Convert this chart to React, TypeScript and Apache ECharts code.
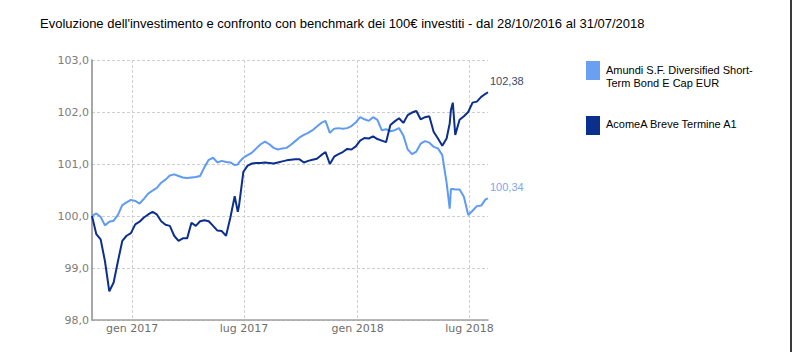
import React, { useEffect, useRef } from "react";
import * as echarts from "echarts";

const titleText =
  "Evoluzione dell'investimento e confronto con benchmark dei 100€ investiti - dal 28/10/2016 al 31/07/2018";

const seriesNames = ["Amundi S.F. Diversified Short-Term Bond E Cap EUR", "AcomeA Breve Termine A1"];
const legendLabels = [["Amundi S.F. Diversified Short-", "Term Bond E Cap EUR"], ["AcomeA Breve Termine A1"]];

const dates = [
  "2016-10-28", "2016-11-04", "2016-11-11", "2016-11-18", "2016-11-25", "2016-12-02", "2016-12-09",
  "2016-12-16", "2016-12-23", "2016-12-30", "2017-01-06", "2017-01-13", "2017-01-20", "2017-01-27",
  "2017-02-03", "2017-02-10", "2017-02-17", "2017-02-24", "2017-03-03", "2017-03-10", "2017-03-17",
  "2017-03-24", "2017-03-31", "2017-04-07", "2017-04-14", "2017-04-21", "2017-04-28", "2017-05-05",
  "2017-05-12", "2017-05-19", "2017-05-26", "2017-06-02", "2017-06-09", "2017-06-16", "2017-06-21",
  "2017-06-23", "2017-06-30", "2017-07-07", "2017-07-14", "2017-07-21", "2017-07-28", "2017-08-04",
  "2017-08-11", "2017-08-18", "2017-08-25", "2017-09-01", "2017-09-08", "2017-09-15", "2017-09-22",
  "2017-09-29", "2017-10-06", "2017-10-13", "2017-10-20", "2017-10-27", "2017-11-03", "2017-11-10",
  "2017-11-17", "2017-11-24", "2017-12-01", "2017-12-08", "2017-12-15", "2017-12-22", "2017-12-29",
  "2018-01-05", "2018-01-12", "2018-01-19", "2018-01-26", "2018-02-02", "2018-02-09", "2018-02-16",
  "2018-02-23", "2018-03-02", "2018-03-09", "2018-03-16", "2018-03-23", "2018-03-30", "2018-04-06",
  "2018-04-13", "2018-04-20", "2018-04-27", "2018-05-04", "2018-05-11", "2018-05-18", "2018-05-25",
  "2018-05-30", "2018-06-01", "2018-06-04", "2018-06-08", "2018-06-15", "2018-06-22", "2018-06-29",
  "2018-07-06", "2018-07-13", "2018-07-20", "2018-07-27", "2018-07-31",
];

const amundiValues = [
  100.0, 100.05, 99.98, 99.82, 99.89, 99.91, 100.02,
  100.21, 100.26, 100.31, 100.29, 100.24, 100.33, 100.43,
  100.49, 100.54, 100.64, 100.7, 100.78, 100.8, 100.77,
  100.74, 100.73, 100.74, 100.75, 100.77, 100.94, 101.08,
  101.12, 101.03, 101.06, 101.04, 101.03, 100.98, 100.99,
  101.03, 101.12, 101.17, 101.22, 101.3, 101.38, 101.43,
  101.38, 101.31, 101.28, 101.3, 101.31, 101.37, 101.44,
  101.51, 101.56, 101.6, 101.65, 101.72, 101.79, 101.83,
  101.6, 101.68, 101.69, 101.68, 101.69, 101.73, 101.8,
  101.9, 101.86, 101.83, 101.9, 101.85, 101.65, 101.67,
  101.63, 101.65, 101.69, 101.55, 101.28, 101.19, 101.24,
  101.39, 101.44, 101.41, 101.33, 101.3, 101.17, 100.64,
  100.14, 100.52, 100.52, 100.51, 100.51, 100.37, 100.02,
  100.1, 100.19, 100.2, 100.32, 100.34,
];

const acomeaValues = [
  100.0, 99.65, 99.55, 99.13, 98.55, 98.72, 99.13,
  99.52, 99.62, 99.67, 99.84, 99.89, 99.97, 100.03,
  100.08, 100.03, 99.9, 99.83, 99.81, 99.62, 99.52,
  99.57, 99.57, 99.87, 99.81, 99.9, 99.92, 99.9,
  99.81, 99.72, 99.71, 99.62, 99.97, 100.38, 100.08,
  100.2, 100.85, 100.97, 101.01, 101.02, 101.02, 101.03,
  101.02, 101.01, 101.03, 101.05, 101.07, 101.08, 101.09,
  101.09, 101.03, 101.06, 101.08, 101.1, 101.17, 101.23,
  101.0, 101.14, 101.19, 101.23, 101.29, 101.28, 101.34,
  101.45, 101.5, 101.49, 101.53, 101.48, 101.45, 101.42,
  101.75, 101.82, 101.88, 101.79, 101.94, 101.99, 102.02,
  101.86, 101.9, 101.92, 101.62, 101.49, 101.35, 101.49,
  101.78, 102.04, 102.18, 101.56, 101.85, 101.92, 102.0,
  102.18, 102.2, 102.29, 102.35, 102.38,
];

const xMinDate = "2016-10-28";
const xMaxDate = "2018-07-31";
const xTickDates = ["2017-01-01", "2017-07-01", "2018-01-01", "2018-07-01"];
const xTickLabels = ["gen 2017", "lug 2017", "gen 2018", "lug 2018"];

const lightBlue = "#5f9bf4";
const darkBlue = "#0b2f8c";

const fmtComma = (v: number, d: number) => v.toFixed(d).replace(".", ",");
const ts = (s: string) => new Date(s + "T00:00:00Z").getTime();

export default function App() {
  const ref = useRef<HTMLDivElement>(null);

  useEffect(() => {
    if (!ref.current) return;
    const chart = echarts.init(ref.current, undefined, { renderer: "svg" });
    const tickTimes = xTickDates.map(ts);
    const labelFor = (v: number) => {
      const i = tickTimes.findIndex((t) => Math.abs(t - v) < 86400000);
      return i >= 0 ? xTickLabels[i] : "";
    };
    const mk = (vals: number[]) => dates.map((d, i) => [ts(d), vals[i]]);

    chart.setOption({
      animation: false,
      backgroundColor: "#ffffff",
      title: {
        text: titleText,
        left: 40,
        top: 17,
        padding: 0,
        textStyle: {
          fontSize: 13,
          fontWeight: "normal",
          color: "#000000",
          fontFamily: "Liberation Sans, Arial, sans-serif",
        },
      },
      grid: { left: 92, right: 306, top: 60, bottom: 32, containLabel: false },
      xAxis: {
        type: "value",
        min: ts(xMinDate),
        max: ts(xMaxDate),
        axisLine: { show: true, lineStyle: { color: "#a0a0a0", width: 1.5 } },
        axisTick: { show: false, customValues: tickTimes },
        axisLabel: {
          customValues: tickTimes,
          formatter: (v: number) => labelFor(v),
          color: "#6e6e6e",
          fontSize: 11,
          fontFamily: "DejaVu Sans, Verdana, sans-serif",
          margin: 3,
          showMinLabel: true,
          showMaxLabel: true,
          hideOverlap: false,
        },
        splitLine: { show: true, lineStyle: { color: "#cfcfcf", type: [3, 2], width: 1 } },
      },
      yAxis: {
        type: "value",
        min: 98,
        max: 103,
        interval: 1,
        axisLine: { show: true, lineStyle: { color: "#8a8a8a", width: 1.5 } },
        axisTick: { show: false },
        axisLabel: {
          formatter: (v: number) => fmtComma(v, 1),
          color: "#827b7b",
          fontSize: 11,
          fontFamily: "DejaVu Sans, Verdana, sans-serif",
          margin: 3,
        },
        splitLine: { show: true, lineStyle: { color: "#cfcfcf", type: [3, 2], width: 1 } },
      },
      series: [
        {
          name: seriesNames[0],
          type: "line",
          data: mk(amundiValues),
          showSymbol: false,
          lineStyle: { color: lightBlue, width: 2 },
          itemStyle: { color: lightBlue },
          endLabel: {
            show: true,
            formatter: (p: any) => fmtComma(p.value[1], 2),
            color: "#7ea7ee",
            fontSize: 11,
            fontFamily: "Liberation Sans, Arial, sans-serif",
            offset: [-6, -11],
          },
        },
        {
          name: seriesNames[1],
          type: "line",
          data: mk(acomeaValues),
          showSymbol: false,
          lineStyle: { color: darkBlue, width: 2 },
          itemStyle: { color: darkBlue },
          endLabel: {
            show: true,
            formatter: (p: any) => fmtComma(p.value[1], 2),
            color: "#3b4a6e",
            fontSize: 11,
            fontFamily: "Liberation Sans, Arial, sans-serif",
            offset: [-6, -11],
          },
        },
      ],
      graphic: [
        { type: "rect", left: 586, top: 61, shape: { width: 14, height: 19 }, style: { fill: "#6aa0f3" } },
        {
          type: "text",
          left: 606,
          top: 63,
          style: {
            text: legendLabels[0].join("\n"),
            fill: "#000000",
            fontSize: 11,
            lineHeight: 13,
            fontFamily: "Liberation Sans, Arial, sans-serif",
          },
        },
        { type: "rect", left: 586, top: 116, shape: { width: 14, height: 19 }, style: { fill: darkBlue } },
        {
          type: "text",
          left: 606,
          top: 117,
          style: {
            text: legendLabels[1].join("\n"),
            fill: "#000000",
            fontSize: 11,
            lineHeight: 13,
            fontFamily: "Liberation Sans, Arial, sans-serif",
          },
        },
        { type: "rect", left: 790, top: 0, shape: { width: 2, height: 352 }, style: { fill: "#3a3a3a" } },
      ],
    });
    return () => chart.dispose();
  }, []);

  return (
    <div
      ref={ref}
      style={{ position: "fixed", left: 0, top: 0, width: 794, height: 352, background: "#fff" }}
    />
  );
}
